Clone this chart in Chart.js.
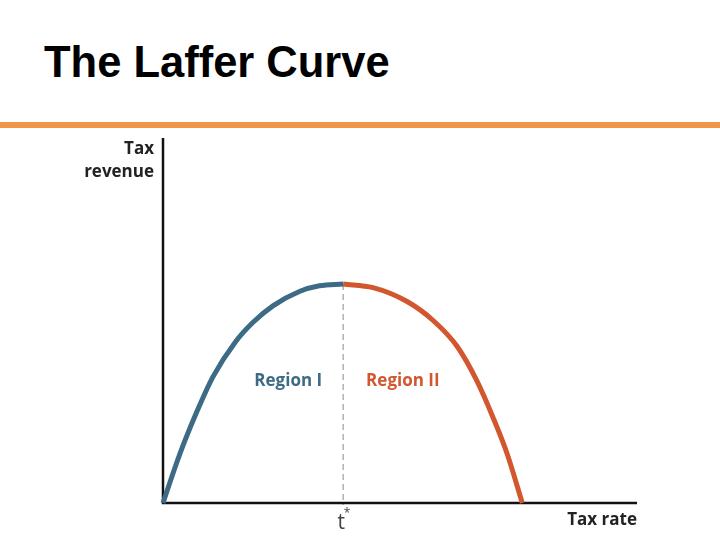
<!DOCTYPE html>
<html>
<head>
<meta charset="utf-8">
<script src="https://cdn.jsdelivr.net/npm/chart.js@4"></script>
<style>
  body { margin: 0; background: #fff; }
  #wrap { position: relative; width: 720px; height: 540px; overflow: hidden; }
  #title {
    position: absolute; left: 44px; top: 36px;
    font-family: "Liberation Sans", Arial, sans-serif; font-weight: bold;
    font-size: 43.5px; color: #000; line-height: 52px;
  }
  #rule { position: absolute; left: 0; top: 122px; width: 720px; height: 6px; background: #f0964a; }
  #myChart { position: absolute; left: 0; top: 0; }
</style>
</head>
<body>
<div id="wrap">
  <div id="title">The Laffer Curve</div>
  <div id="rule"></div>
  <canvas id="myChart" width="720" height="540"></canvas>
</div>
<script>
//Curve (tax rate 0-100, revenue 0-100).
const regionOneRate = [0, 2.5, 4.6, 7.2, 10.5, 15.2, 19.0, 23.2, 28.9, 33, 38];
const regionOneRevenue = [0, 9.6, 17.0, 25.2, 34.5, 44.0, 49.5, 54.0, 58.0, 59.5, 60];
const regionTwoRate = [38, 44.3, 51.5, 57.0, 62.0, 66.2, 69.6, 72.6, 75.8];
const regionTwoRevenue = [60, 59.0, 55.2, 50.0, 43.0, 33.5, 23.5, 13.5, 0];

const tStar = 38;
const peakRevenue = 60;

const blue = '#3d6b85';
const orange = '#d2572e';

function toPoints(xs, ys) {
    return xs.map((x, i) => ({ x: x, y: ys[i] }));
}

//Axes, dashed line and labels.
const decorations = {
    id: 'decorations',
    beforeDatasetsDraw(chart) {
        const ctx = chart.ctx;
        const xs = chart.scales.x, ys = chart.scales.y;
        const x0 = xs.getPixelForValue(0), x1 = xs.getPixelForValue(100);
        const y0 = ys.getPixelForValue(0), y1 = ys.getPixelForValue(100);
        const tx = xs.getPixelForValue(tStar);

        ctx.save();
        ctx.strokeStyle = '#888';
        ctx.lineWidth = 1;
        ctx.setLineDash([6, 4]);
        ctx.beginPath();
        ctx.moveTo(tx, ys.getPixelForValue(peakRevenue));
        ctx.lineTo(tx, y0 + 2);
        ctx.stroke();
        ctx.setLineDash([]);

        ctx.strokeStyle = '#111';
        ctx.lineWidth = 2.5;
        ctx.beginPath();
        ctx.moveTo(x0, y1);
        ctx.lineTo(x0, y0);
        ctx.lineTo(x1, y0);
        ctx.stroke();
        ctx.restore();
    },
    afterDatasetsDraw(chart) {
        const ctx = chart.ctx;
        const xs = chart.scales.x, ys = chart.scales.y;
        const x0 = xs.getPixelForValue(0), x1 = xs.getPixelForValue(100);
        const y0 = ys.getPixelForValue(0), y1 = ys.getPixelForValue(100);
        const tx = xs.getPixelForValue(tStar);

        ctx.save();
        ctx.textBaseline = 'middle';
        ctx.font = 'bold 17px "Open Sans", sans-serif';
        ctx.fillStyle = '#222';
        ctx.textAlign = 'right';
        ctx.fillText('Tax', x0 - 9, y1 + 11);
        ctx.fillText('revenue', x0 - 9, y1 + 34);
        ctx.fillText('Tax rate', x1, y0 + 17);

        ctx.font = 'bold 17px "Open Sans", sans-serif';
        ctx.fillStyle = blue;
        ctx.fillText('Region I', tx - 21, ys.getPixelForValue(33.5));
        ctx.fillStyle = orange;
        ctx.textAlign = 'left';
        ctx.fillText('Region II', tx + 23, ys.getPixelForValue(33.5));

        ctx.fillStyle = '#444';
        ctx.textAlign = 'center';
        ctx.font = '21px "Open Sans", sans-serif';
        ctx.fillText('t', tx - 2, y0 + 20);
        ctx.font = '12px "Open Sans", sans-serif';
        ctx.fillText('*', tx + 4, y0 + 11);
        ctx.restore();
    }
};

new Chart(document.getElementById('myChart').getContext('2d'), {
    type: 'scatter',
    data: {
        datasets: [{
            label: 'Region I',
            data: toPoints(regionOneRate, regionOneRevenue),
            showLine: true,
            borderColor: blue,
            borderWidth: 5,
            pointRadius: 0,
            cubicInterpolationMode: 'monotone',
            clip: false
        }, {
            label: 'Region II',
            data: toPoints(regionTwoRate, regionTwoRevenue),
            showLine: true,
            borderColor: orange,
            borderWidth: 5,
            pointRadius: 0,
            cubicInterpolationMode: 'monotone',
            clip: false
        }]
    },
    options: {
        responsive: false,
        animation: false,
        layout: { padding: { left: 163, right: 83, top: 138, bottom: 37 } },
        plugins: { legend: { display: false }, tooltip: { enabled: false } },
        scales: {
            x: { type: 'linear', min: 0, max: 100, display: false },
            y: { type: 'linear', min: 0, max: 100, display: false }
        }
    },
    plugins: [decorations]
});
</script>
</body>
</html>
